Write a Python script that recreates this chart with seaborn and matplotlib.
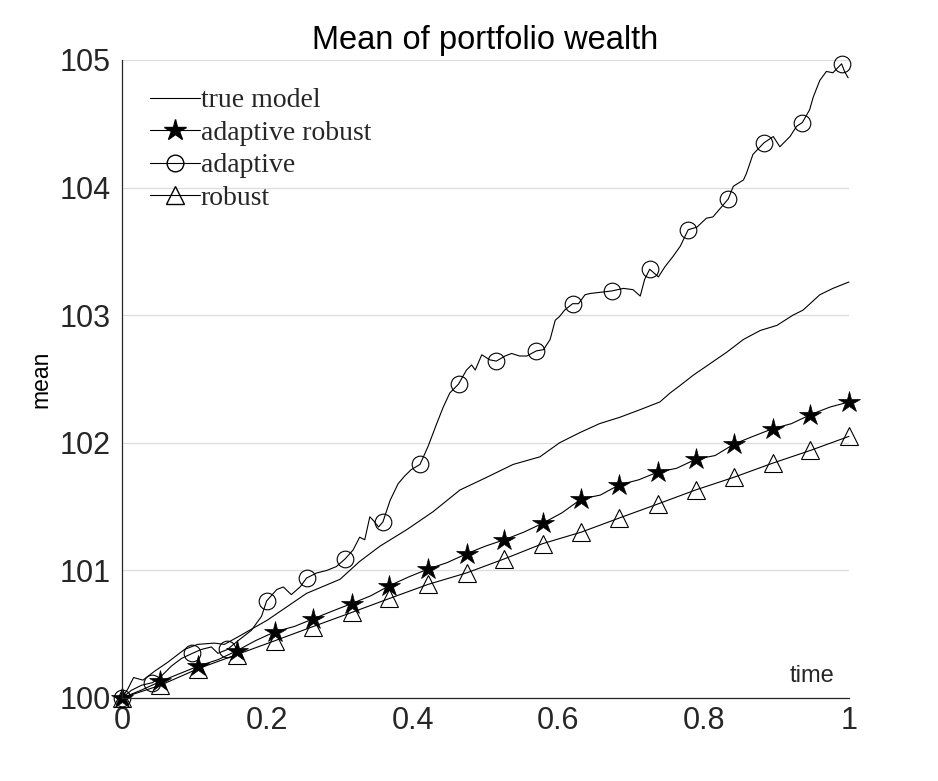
import numpy as np
import pandas as pd
import matplotlib
matplotlib.use("Agg")
import matplotlib.pyplot as plt
from matplotlib.lines import Line2D
import seaborn as sns

# --- data ------------------------------------------------------------------
true_t = [0.000, 0.008, 0.016, 0.029, 0.045, 0.063, 0.086, 0.104, 0.127, 0.141,
          0.160, 0.200, 0.254, 0.300, 0.327, 0.355, 0.392, 0.428, 0.465, 0.502,
          0.538, 0.575, 0.602, 0.630, 0.657, 0.685, 0.713, 0.740, 0.754, 0.768,
          0.786, 0.809, 0.832, 0.855, 0.878, 0.901, 0.923, 0.937, 0.960, 0.978,
          1.000]
true_v = [100.00, 100.07, 100.16, 100.14, 100.21, 100.28, 100.38, 100.42, 100.43, 100.42,
          100.48, 100.61, 100.82, 100.93, 101.07, 101.19, 101.32, 101.46, 101.63, 101.73,
          101.83, 101.89, 102.00, 102.08, 102.15, 102.20, 102.26, 102.32, 102.39, 102.45,
          102.53, 102.62, 102.71, 102.81, 102.88, 102.92, 103.00, 103.04, 103.16, 103.21,
          103.26]

adaptive_t = [0.000, 0.013, 0.027, 0.042, 0.054, 0.068, 0.082, 0.097, 0.109, 0.123,
              0.132, 0.145, 0.160, 0.178, 0.192, 0.199, 0.213, 0.222, 0.233, 0.245,
              0.254, 0.268, 0.282, 0.295, 0.307, 0.318, 0.327, 0.334, 0.341, 0.346,
              0.353, 0.359, 0.369, 0.380, 0.389, 0.398, 0.410, 0.421, 0.433, 0.442,
              0.451, 0.463, 0.474, 0.481, 0.486, 0.495, 0.506, 0.515, 0.527, 0.536,
              0.547, 0.557, 0.570, 0.580, 0.589, 0.596, 0.602, 0.609, 0.620, 0.628,
              0.637, 0.644, 0.674, 0.690, 0.703, 0.713, 0.719, 0.726, 0.738, 0.747,
              0.758, 0.768, 0.779, 0.791, 0.804, 0.813, 0.834, 0.841, 0.855, 0.859,
              0.868, 0.883, 0.896, 0.905, 0.919, 0.928, 0.936, 0.946, 0.951, 0.960,
              0.969, 0.978, 0.990, 0.994, 0.999]
adaptive_v = [100.00, 100.06, 100.10, 100.12, 100.17, 100.25, 100.31, 100.35, 100.38, 100.40,
              100.35, 100.38, 100.45, 100.53, 100.64, 100.76, 100.85, 100.87, 100.81, 100.87,
              100.94, 100.98, 101.00, 101.03, 101.09, 101.16, 101.26, 101.24, 101.42, 101.39,
              101.34, 101.38, 101.55, 101.68, 101.74, 101.79, 101.83, 101.97, 102.15, 102.28,
              102.39, 102.46, 102.57, 102.61, 102.57, 102.69, 102.65, 102.64, 102.68, 102.70,
              102.68, 102.68, 102.72, 102.73, 102.81, 102.96, 102.99, 103.04, 103.09, 103.09,
              103.16, 103.17, 103.19, 103.21, 103.20, 103.15, 103.28, 103.36, 103.30, 103.38,
              103.46, 103.54, 103.67, 103.69, 103.76, 103.77, 103.91, 104.01, 104.06, 104.11,
              104.26, 104.35, 104.40, 104.32, 104.40, 104.48, 104.51, 104.61, 104.71, 104.84,
              104.91, 104.90, 104.97, 104.91, 104.86]
adaptive_marks = [0.000, 0.042, 0.097, 0.145, 0.199, 0.254, 0.307, 0.359, 0.410, 0.463,
                  0.515, 0.570, 0.620, 0.674, 0.726, 0.779, 0.834, 0.883, 0.936, 0.990]

adarob_t = [0.000, 0.026, 0.053, 0.079, 0.105, 0.132, 0.158, 0.184, 0.211, 0.237,
            0.263, 0.289, 0.316, 0.342, 0.368, 0.395, 0.421, 0.447, 0.474, 0.500,
            0.526, 0.553, 0.579, 0.605, 0.632, 0.658, 0.684, 0.711, 0.737, 0.763,
            0.789, 0.816, 0.842, 0.868, 0.895, 0.921, 0.947, 0.974, 1.000]
adarob_v = [100.00, 100.06, 100.13, 100.19, 100.25, 100.30, 100.37, 100.45, 100.52, 100.56,
            100.62, 100.68, 100.74, 100.80, 100.88, 100.95, 101.01, 101.06, 101.13, 101.19,
            101.24, 101.30, 101.37, 101.45, 101.56, 101.59, 101.67, 101.71, 101.77, 101.80,
            101.87, 101.90, 101.99, 102.05, 102.11, 102.15, 102.22, 102.28, 102.32]

robust_t = [0.000, 0.053, 0.105, 0.158, 0.211, 0.263, 0.316, 0.368, 0.421, 0.474,
            0.526, 0.579, 0.632, 0.684, 0.737, 0.789, 0.842, 0.895, 0.947, 1.000]
robust_v = [100.00, 100.10, 100.23, 100.34, 100.45, 100.56, 100.67, 100.78, 100.89, 100.98,
            101.09, 101.21, 101.30, 101.41, 101.52, 101.63, 101.73, 101.84, 101.94, 102.05]

x_ticks = [0, 0.2, 0.4, 0.6, 0.8, 1]
x_ticklabels = ["0", "0.2", "0.4", "0.6", "0.8", "1"]
y_ticks = [100, 101, 102, 103, 104, 105]

# --- styling ----------------------------------------------------------------
sns.set_style("white")
plt.rcParams["font.family"] = ["Liberation Sans", "DejaVu Sans"]

fig = plt.figure(figsize=(9.38, 7.81), dpi=100)
ax = fig.add_axes([0.130, 0.1063, 0.775, 0.8169])

lw = 0.8
adaptive_idx = [adaptive_t.index(t) for t in adaptive_marks]

# MATLAB-style hollow markers (no fill) except the stars
sns.lineplot(x=true_t, y=true_v, ax=ax, color="black", lw=lw,
             sort=False, estimator=None, clip_on=False)
sns.lineplot(x=robust_t, y=robust_v, ax=ax, color="black", lw=lw,
             marker="^", ms=13, mfc="none", mec="black", mew=0.8,
             sort=False, estimator=None, clip_on=False)
sns.lineplot(x=adaptive_t, y=adaptive_v, ax=ax, color="black", lw=lw,
             marker="o", markevery=adaptive_idx, ms=12, mfc="none",
             mec="black", mew=0.8, sort=False, estimator=None, clip_on=False)
sns.lineplot(x=adarob_t, y=adarob_v, ax=ax, color="black", lw=lw,
             marker="*", markevery=list(range(0, len(adarob_t), 2)), ms=16,
             mfc="black", mec="black", mew=0.5, sort=False, estimator=None,
             clip_on=False)

ax.set_xlim(0, 1)
ax.set_ylim(100, 105)
ax.set_xticks(x_ticks)
ax.set_xticklabels(x_ticklabels)
ax.set_yticks(y_ticks)
ax.tick_params(axis="both", direction="in", length=5, width=0.8,
               labelsize=22, colors="#262626", pad=8)
ax.tick_params(axis="x", pad=6)
ax.yaxis.grid(True, color="#dddddd", lw=0.9)
ax.xaxis.grid(False)
for side in ["top", "right"]:
    ax.spines[side].set_visible(False)
for side in ["left", "bottom"]:
    ax.spines[side].set_color("#262626")
    ax.spines[side].set_linewidth(0.9)
ax.set_axisbelow(True)

ax.set_title("Mean of portfolio wealth", fontsize=23.5, color="black", pad=8)
ax.set_ylabel("mean", fontsize=16.5, color="black", labelpad=5)
ax.set_xlabel("")
ax.text(0.949, 0.034, "time", transform=ax.transAxes, ha="center",
        va="center", fontsize=17, color="#262626")

handles = [
    Line2D([], [], color="black", lw=lw),
    Line2D([], [], color="black", lw=lw, marker="*", ms=16, mfc="black", mec="black"),
    Line2D([], [], color="black", lw=lw, marker="o", ms=12, mfc="none", mec="black"),
    Line2D([], [], color="black", lw=lw, marker="^", ms=13, mfc="none", mec="black"),
]
labels = ["true model", "adaptive robust", "adaptive", "robust"]
ax.legend(handles, labels, loc="upper left", bbox_to_anchor=(0.038, 0.956),
          frameon=False, handlelength=1.8, handletextpad=0.05, labelspacing=0.25,
          borderpad=0, borderaxespad=0, prop={"family": "Liberation Serif", "size": 20})

fig.savefig("out.png", dpi=100)
